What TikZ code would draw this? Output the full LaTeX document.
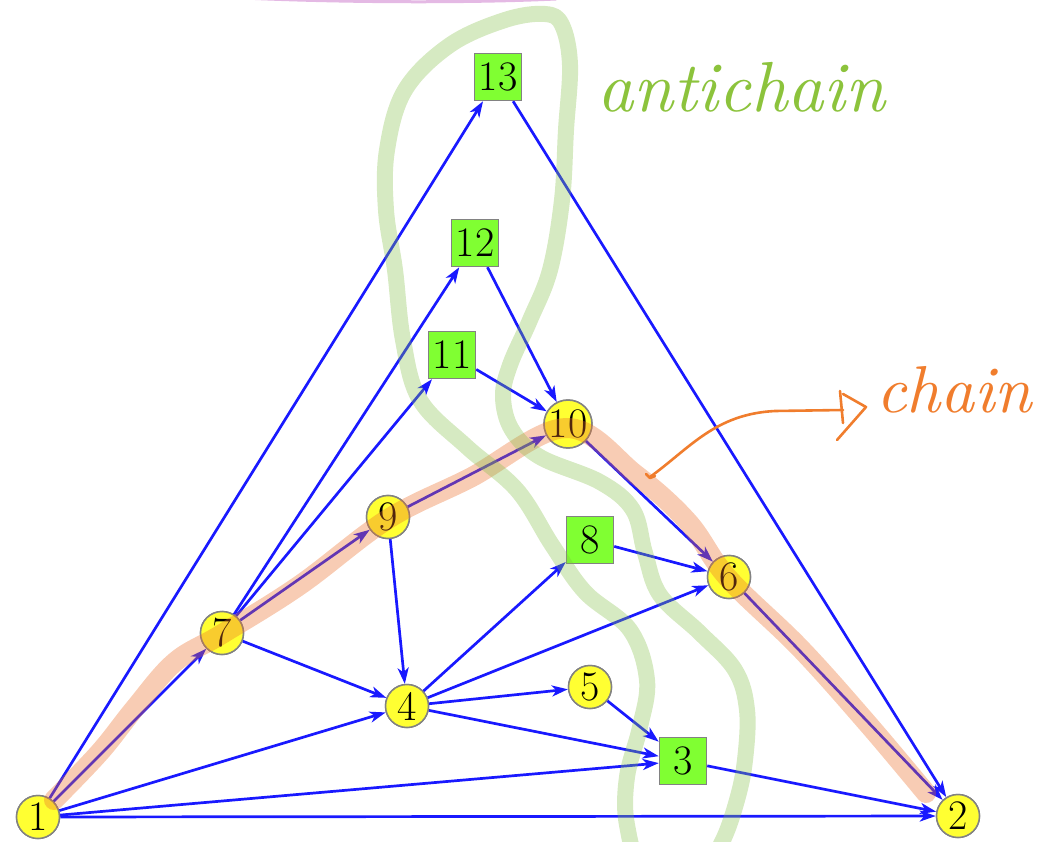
\documentclass[tikz,border=0pt]{standalone}
\usepackage{graphicx}
\usetikzlibrary{arrows.meta}
\definecolor{edgeblue}{RGB}{25,25,255}
\definecolor{nodeyellow}{RGB}{255,255,50}
\definecolor{nodegreen}{RGB}{128,255,50}
\definecolor{bordergray}{RGB}{130,130,130}
\definecolor{loopgreen}{RGB}{130,190,70}
\definecolor{bandorange}{RGB}{235,110,40}
\definecolor{inkgreen}{RGB}{140,195,60}
\definecolor{inkorange}{RGB}{240,125,45}
\definecolor{inkpink}{RGB}{228,185,228}
\tikzset{
  vtx/.style={circle, fill=nodeyellow, draw=bordergray, line width=1.5pt, minimum size=43pt, inner sep=0pt, font=\fontsize{42}{42}\selectfont},
  sqr/.style={rectangle, fill=nodegreen, draw=bordergray, line width=1.5pt, minimum size=47pt, inner sep=0pt, font=\fontsize{42}{42}\selectfont},
  edge/.style={draw=edgeblue, line width=2.7pt, -{Stealth[length=16pt,width=11pt,inset=4.5pt]}},
  band/.style={draw=bandorange, draw opacity=0.35, line width=20pt, line cap=round, line join=round},
  loop/.style={draw=loopgreen, draw opacity=0.33, line width=16pt, line join=round},
  ink/.style={line width=2.6pt, line cap=round, line join=round}
}
\begin{document}
\begin{tikzpicture}[x=1pt,y=-1pt]
\useasboundingbox (0,0) rectangle (1044,842);
\clip (0,0) rectangle (1044,842);
% pink stroke at top edge
\draw[inkpink, line width=3pt, line cap=round] (255,-1.5) .. controls (350,2.5) and (470,3) .. (556,-1);
% nodes
\node[vtx] (n1) at (38,817) {1};
\node[vtx] (n2) at (958,816) {2};
\node[sqr] (n3) at (683,761) {3};
\node[vtx] (n4) at (407,706) {4};
\node[vtx] (n5) at (590,687) {5};
\node[vtx] (n6) at (729,577) {6};
\node[vtx] (n7) at (222,633) {7};
\node[sqr] (n8) at (590,540) {8};
\node[vtx] (n9) at (388,517) {9};
\node[vtx] (n10) at (568,424) {10};
\node[sqr] (n11) at (452,355) {11};
\node[sqr] (n12) at (475,243) {12};
\node[sqr] (n13) at (498,77) {13};
% edges
\path[edge] (n1) -- (n13);
\path[edge] (n13) -- (n2);
\path[edge] (n1) -- (n7);
\path[edge] (n1) -- (n4);
\path[edge] (n1) -- (n3);
\path[edge] (n1) -- (n2);
\path[edge] (n7) -- (n9);
\path[edge] (n7) -- (n4);
\path[edge] (n7) -- (n11);
\path[edge] (n7) -- (n12);
\path[edge] (n9) -- (n10);
\path[edge] (n9) -- (n4);
\path[edge] (n11) -- (n10);
\path[edge] (n12) -- (n10);
\path[edge] (n10) -- (n6);
\path[edge] (n8) -- (n6);
\path[edge] (n4) -- (n8);
\path[edge] (n4) -- (n6);
\path[edge] (n4) -- (n5);
\path[edge] (n4) -- (n3);
\path[edge] (n5) -- (n3);
\path[edge] (n3) -- (n2);
\path[edge] (n6) -- (n2);
% redraw nodes on top of the edges
\node[vtx] at (n1) {1};
\node[vtx] at (n2) {2};
\node[sqr] at (n3) {3};
\node[vtx] at (n4) {4};
\node[vtx] at (n5) {5};
\node[vtx] at (n6) {6};
\node[vtx] at (n7) {7};
\node[sqr] at (n8) {8};
\node[vtx] at (n9) {9};
\node[vtx] at (n10) {10};
\node[sqr] at (n11) {11};
\node[sqr] at (n12) {12};
\node[sqr] at (n13) {13};
% chain highlight
\draw[band] plot[smooth, tension=0.6] coordinates {(54,800) (100,752) (135,708) (175,662) (222,634) (300,585) (388,519) (470,478) (566,428) (635,474) (688,522) (728,578) (800,648) (868,724) (926,793)};
% antichain loop
\draw[loop] plot[smooth cycle, tension=0.6] coordinates {(545,14) (505,20) (450,45) (405,90) (387,150) (386,210) (395,270) (403,340) (420,400) (467,447) (517,490) (552,545) (585,592) (630,630) (647,680) (640,727) (627,777) (627,825) (645,870) (700,872) (722,842) (737,800) (745,760) (747,710) (735,670) (700,633) (660,595) (645,553) (633,510) (600,482) (540,457) (512,430) (503,397) (510,365) (530,320) (550,270) (562,200) (566,130) (570,65) (562,25)};
% annotations
\node[anchor=base west, inner sep=0pt, text=inkgreen] (anti) at (597,112) {\resizebox{288pt}{!}{\itshape antichain}};
\node[anchor=base west, inner sep=0pt, text=inkorange] (chainlbl) at (876,412) {\resizebox{156pt}{!}{\itshape chain}};
\coordinate (tip) at (650,477);
\coordinate (tail) at (843,410);
\draw[ink, inkorange] (tip) .. controls (690,448) and (715,414) .. (775,411) -- (tail);
\draw[ink, inkorange] (646,474) -- (650,478) -- (655,476);
\draw[ink, inkorange] (840,391) -- (843,423);
\draw[ink, inkorange] (843,394) -- (866,407) -- (837,440);
\end{tikzpicture}
\end{document}
